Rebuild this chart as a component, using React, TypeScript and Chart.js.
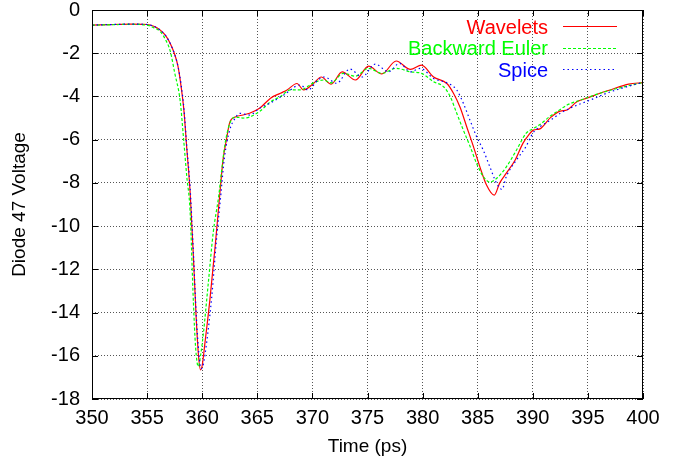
import React, { useEffect, useRef } from 'react';
import { Chart, registerables } from 'chart.js';

Chart.register(...registerables);

const seriesNames = ['Wavelets', 'Backward Euler', 'Spice'];

const waveletsT = [350, 352, 353.5, 355, 355.6, 356.2, 356.7, 357.1, 357.5, 357.8, 358.1, 358.35, 358.6, 358.9, 359.2, 359.45, 359.65, 359.85, 360.0, 360.25, 360.7, 361.2, 361.6, 361.9, 362.2, 362.5, 363.0, 363.7, 364.3, 365.2, 366.2, 367.1, 367.7, 368.6, 369.2, 370.1, 370.8, 371.7, 372.7, 373.9, 375.1, 376.3, 377.6, 378.9, 379.9, 381.0, 382.2, 382.8, 383.4, 384.0, 384.6, 385.2, 385.8, 386.5, 387.0, 387.6, 388.4, 389.1, 389.6, 390.05, 390.65, 391.6, 392.5, 393.1, 394.0, 394.9, 396.1, 397.0, 398.7, 400];
const waveletsV = [-0.7, -0.67, -0.65, -0.67, -0.75, -0.93, -1.2, -1.55, -2.05, -2.6, -3.6, -4.7, -6.4, -8.4, -11.4, -14.2, -15.9, -16.65, -16.45, -15.4, -13.4, -10.8, -8.5, -6.9, -6.0, -5.2, -4.95, -4.86, -4.78, -4.55, -4.08, -3.85, -3.7, -3.4, -3.7, -3.4, -3.1, -3.43, -2.86, -3.24, -2.6, -2.96, -2.36, -2.75, -2.55, -3.1, -3.4, -3.85, -4.5, -5.4, -6.3, -7.26, -8.1, -8.57, -8.0, -7.55, -6.94, -6.17, -5.8, -5.56, -5.5, -4.98, -4.68, -4.63, -4.25, -4.08, -3.85, -3.7, -3.43, -3.36];

const eulerT = [350, 352, 353.5, 355, 355.6, 356.2, 356.7, 357.1, 357.5, 358.0, 358.3, 358.6, 358.9, 359.2, 359.4, 359.65, 359.85, 360.1, 360.55, 361.0, 361.5, 361.77, 362.07, 362.5, 363.0, 363.7, 364.3, 365.2, 366.2, 367.1, 368.0, 368.9, 370.1, 371.0, 371.7, 372.8, 373.9, 375.1, 376.3, 377.6, 378.9, 379.9, 381.0, 381.9, 382.5, 383.1, 383.7, 384.3, 384.9, 385.5, 386.1, 386.7, 387.6, 388.5, 389.4, 390.0, 390.65, 391.6, 392.5, 393.1, 394.6, 396.1, 397.9, 399.7, 400];
const eulerV = [-0.7, -0.68, -0.66, -0.7, -0.82, -1.0, -1.4, -1.9, -2.9, -4.2, -5.9, -7.7, -9.3, -13.5, -15.6, -16.5, -16.0, -15.0, -12.65, -10.3, -8.6, -7.4, -6.2, -5.25, -4.95, -5.0, -4.95, -4.7, -4.25, -4.0, -3.7, -3.7, -3.37, -3.24, -3.37, -2.93, -3.06, -2.7, -2.93, -2.7, -2.86, -2.93, -3.32, -3.55, -4.0, -4.78, -5.56, -6.3, -7.1, -7.7, -7.96, -7.8, -7.26, -6.5, -5.7, -5.5, -5.3, -4.9, -4.6, -4.4, -4.12, -3.85, -3.6, -3.39, -3.36];

const spiceT = [350, 352, 353.5, 355, 355.6, 356.2, 356.7, 357.1, 357.5, 357.8, 358.1, 358.35, 358.6, 358.9, 359.2, 359.45, 359.7, 359.9, 360.1, 360.4, 360.86, 361.3, 361.7, 362.0, 362.5, 363.0, 363.4, 364.3, 365.2, 366.2, 367.4, 368.9, 369.6, 370.5, 371.1, 372.2, 373.4, 374.5, 375.7, 376.9, 377.9, 378.9, 379.8, 381.0, 382.2, 383.1, 383.7, 384.3, 384.9, 385.5, 386.1, 386.7, 387.2, 387.6, 388.5, 389.4, 390.0, 390.65, 391.6, 392.5, 393.7, 395.2, 396.7, 398.2, 399.7, 400];
const spiceV = [-0.7, -0.67, -0.65, -0.67, -0.75, -0.93, -1.2, -1.55, -2.05, -2.6, -3.5, -4.6, -6.3, -8.2, -11.2, -14.0, -15.9, -16.6, -16.4, -15.4, -13.3, -10.6, -8.5, -6.9, -5.55, -5.0, -4.78, -4.86, -4.55, -4.3, -3.93, -3.47, -3.7, -3.24, -3.1, -3.39, -2.73, -3.1, -2.5, -2.86, -2.47, -2.86, -2.7, -3.17, -3.37, -3.7, -4.32, -5.1, -5.86, -6.48, -7.25, -8.0, -8.3, -7.7, -6.95, -6.3, -5.7, -5.4, -5.1, -4.78, -4.47, -4.17, -3.85, -3.6, -3.39, -3.36];

const xTitle = 'Time (ps)';
const yTitle = 'Diode 47 Voltage';

const FONT = "'Liberation Sans', Arial, Helvetica, sans-serif";

const toPoints = (t: number[], v: number[]) => t.map((x, i) => ({ x, y: v[i] }));

const framePlugin = {
  id: 'frameTicks',
  afterDatasetsDraw(chart: any) {
    const { ctx, chartArea, scales } = chart;
    const { left, right, top, bottom } = chartArea;
    const xs = scales.x;
    const ys = scales.y;
    const len = 6;
    ctx.save();
    ctx.setLineDash([]);
    ctx.strokeStyle = '#000';
    ctx.lineWidth = 1;
    ctx.beginPath();
    xs.ticks.forEach((t: any) => {
      const px = Math.round(xs.getPixelForValue(t.value)) + 0.5;
      ctx.moveTo(px, bottom);
      ctx.lineTo(px, bottom - len);
      ctx.moveTo(px, top);
      ctx.lineTo(px, top + len);
    });
    ys.ticks.forEach((t: any) => {
      const py = Math.round(ys.getPixelForValue(t.value)) + 0.5;
      ctx.moveTo(left, py);
      ctx.lineTo(left + len, py);
      ctx.moveTo(right, py);
      ctx.lineTo(right - len, py);
    });
    ctx.stroke();
    ctx.strokeRect(left + 0.5, top + 0.5, right - left - 1, bottom - top - 1);
    ctx.restore();
  },
  afterDraw(chart: any) {
    const { ctx, chartArea } = chart;
    const { right, top } = chartArea;
    const textRight = right - 95;
    const sx0 = right - 80;
    const sx1 = right - 26;
    ctx.save();
    ctx.font = `20px ${FONT}`;
    ctx.textAlign = 'right';
    ctx.textBaseline = 'alphabetic';
    chart.data.datasets.forEach((ds: any, i: number) => {
      const base = top + 23.5 + i * 21.5;
      const mid = base - 7.2;
      ctx.fillStyle = ds.borderColor;
      ctx.fillText(ds.label, textRight, base);
      ctx.strokeStyle = ds.borderColor;
      ctx.lineWidth = ds.borderWidth;
      ctx.setLineDash(ds.borderDash || []);
      ctx.beginPath();
      ctx.moveTo(sx0, Math.round(mid) + 0.5);
      ctx.lineTo(sx1, Math.round(mid) + 0.5);
      ctx.stroke();
    });
    ctx.restore();
  },
};

export default function App() {
  const canvasRef = useRef<HTMLCanvasElement | null>(null);

  useEffect(() => {
    document.body.style.margin = '0';
    const canvas = canvasRef.current;
    if (!canvas) return;
    const gridOpts = {
      color: '#555',
      lineWidth: 1,
      drawTicks: false,
    };
    const chart = new Chart(canvas, {
      type: 'line',
      data: {
        datasets: [
          {
            label: seriesNames[0],
            data: toPoints(waveletsT, waveletsV),
            borderColor: '#ff0000',
            borderWidth: 1.2,
            borderDash: [],
            pointRadius: 0,
            cubicInterpolationMode: 'monotone',
            fill: false,
            order: 3,
          },
          {
            label: seriesNames[1],
            data: toPoints(eulerT, eulerV),
            borderColor: '#00ff00',
            borderWidth: 1.2,
            borderDash: [3, 2],
            pointRadius: 0,
            cubicInterpolationMode: 'monotone',
            fill: false,
            order: 2,
          },
          {
            label: seriesNames[2],
            data: toPoints(spiceT, spiceV),
            borderColor: '#0000ff',
            borderWidth: 1.2,
            borderDash: [1.5, 3],
            pointRadius: 0,
            cubicInterpolationMode: 'monotone',
            fill: false,
            order: 1,
          },
        ],
      },
      options: {
        responsive: false,
        animation: false,
        devicePixelRatio: 1,
        layout: { padding: { left: 0, top: 10, right: 30, bottom: 0 } },
        plugins: {
          legend: { display: false },
          tooltip: { enabled: false },
        },
        scales: {
          x: {
            type: 'linear',
            min: 350,
            max: 400,
            ticks: {
              stepSize: 5,
              autoSkip: false,
              maxRotation: 0,
              padding: 7,
              color: '#000',
              font: { family: FONT, size: 20 },
            },
            grid: { ...gridOpts, borderDash: [1, 2] } as any,
            border: { display: false, dash: [1, 2] },
            title: {
              display: true,
              text: xTitle,
              color: '#000',
              font: { family: FONT, size: 19 },
              padding: { top: 0, bottom: 5 },
            },
            afterFit(s: any) {
              s.height = 64;
              s.paddingLeft = 0;
              s.paddingRight = 0;
            },
          },
          y: {
            type: 'linear',
            min: -18,
            max: 0,
            ticks: {
              stepSize: 2,
              autoSkip: false,
              padding: 12,
              color: '#000',
              font: { family: FONT, size: 20 },
            },
            grid: { ...gridOpts } as any,
            border: { display: false, dash: [1, 2] },
            title: {
              display: true,
              text: yTitle,
              color: '#000',
              font: { family: FONT, size: 19 },
              padding: { top: 8, bottom: 0 },
            },
            afterFit(s: any) {
              s.width = 92;
              s.paddingTop = 0;
              s.paddingBottom = 0;
            },
          },
        },
      } as any,
      plugins: [framePlugin],
    });
    return () => {
      chart.destroy();
    };
  }, []);

  return (
    <div style={{ width: 673, height: 463, background: '#fff' }}>
      <canvas ref={canvasRef} width={673} height={463} style={{ display: 'block' }} />
    </div>
  );
}
